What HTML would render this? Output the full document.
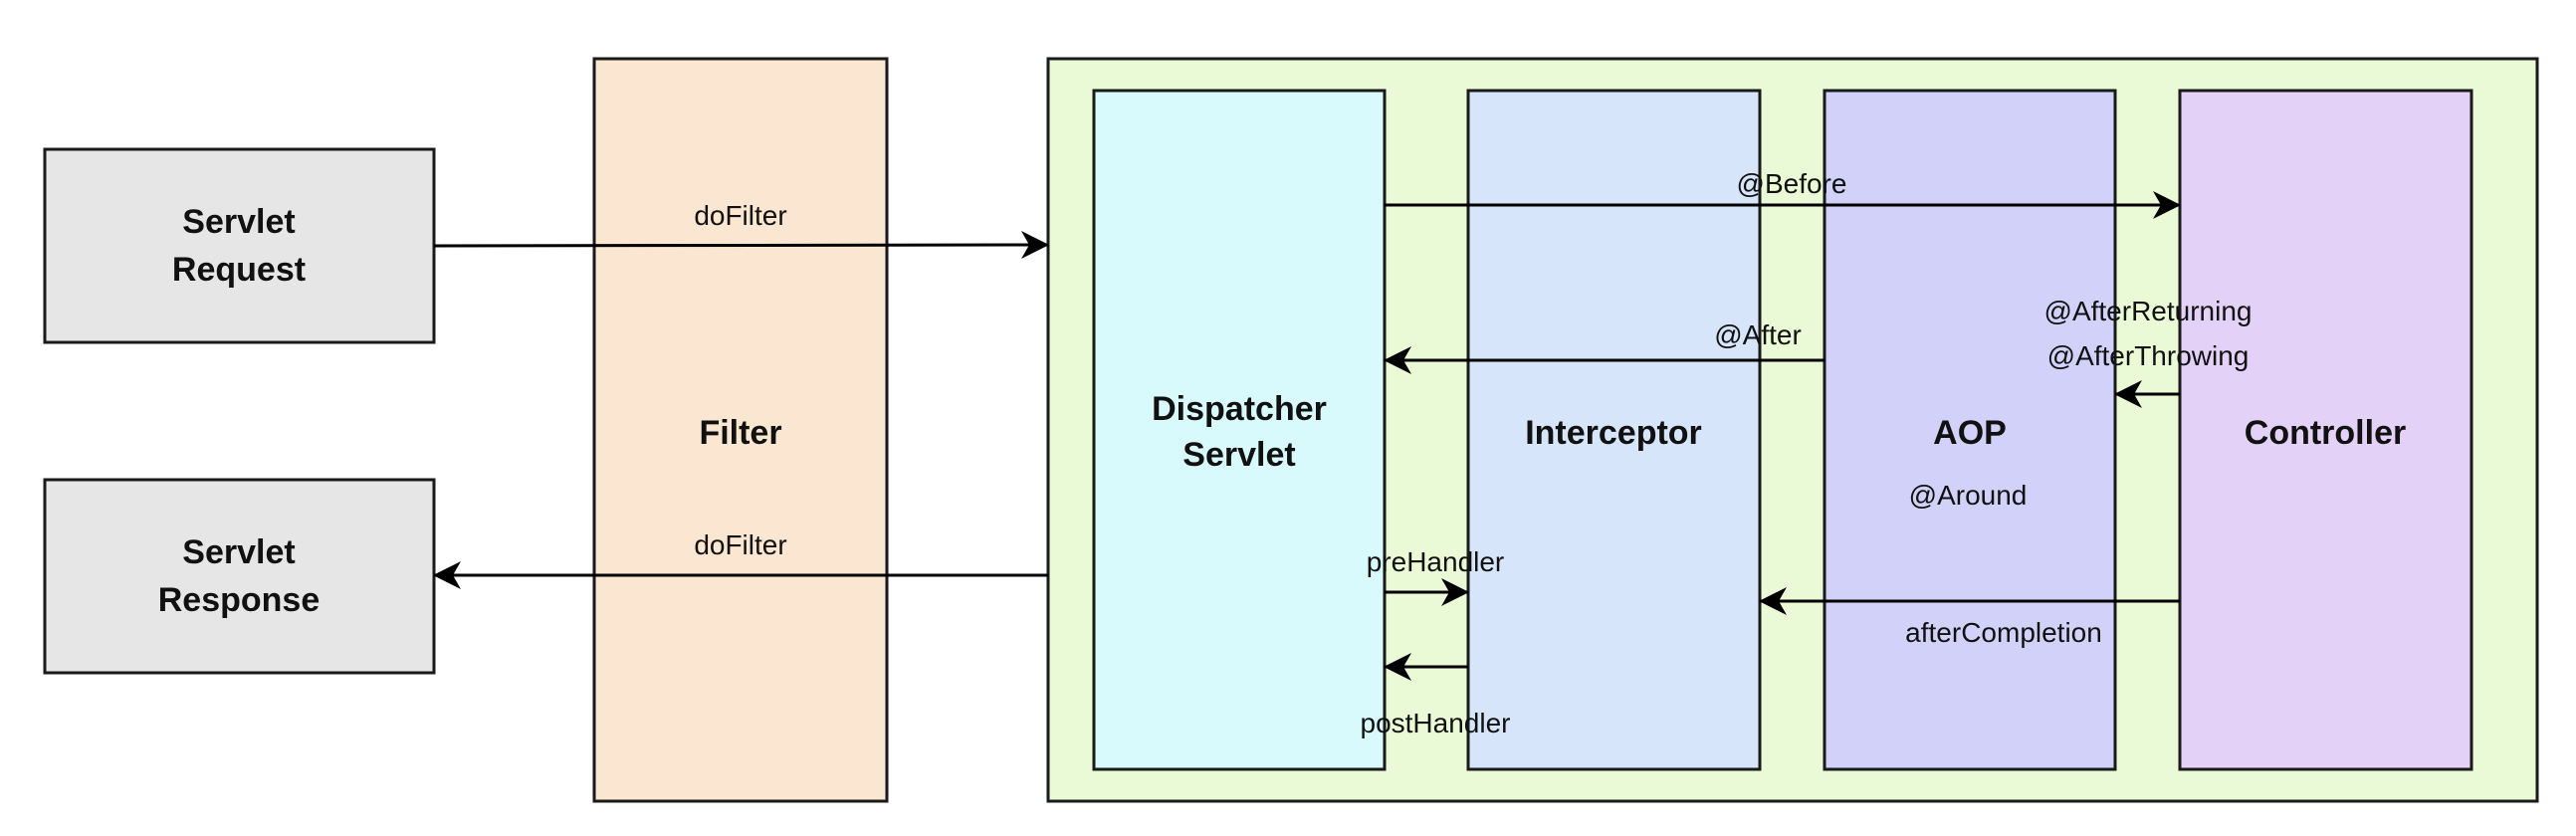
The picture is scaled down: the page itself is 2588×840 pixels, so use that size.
<!DOCTYPE html>
<html><head><meta charset="utf-8"><style>html,body{margin:0;padding:0;background:#fff}svg{display:block}</style></head>
<body>
<svg width="2588" height="840" viewBox="0 0 2588 840" xmlns="http://www.w3.org/2000/svg">
<defs>
<marker id="a" markerWidth="30" markerHeight="30" refX="27" refY="14" orient="auto" markerUnits="userSpaceOnUse">
<path d="M0,0 L28,14 L0,28 L8,14 Z" fill="#000"/>
</marker>
</defs>
<g stroke="#1a1a1a" stroke-width="3">
<rect x="45" y="150" width="391" height="194" fill="#e6e6e6"/>
<rect x="45" y="482" width="391" height="194" fill="#e6e6e6"/>
<rect x="597" y="59" width="294" height="746" fill="#fae6d1"/>
<rect x="1053" y="59" width="1496" height="746" fill="#ebfad6"/>
<rect x="1099" y="91" width="292" height="682" fill="#d8fafd"/>
<rect x="1475" y="91" width="293" height="682" fill="#d6e5fa"/>
<rect x="1833" y="91" width="292" height="682" fill="#d1d1fa"/>
<rect x="2190" y="91" width="293" height="682" fill="#e3d1f8"/>
</g>
<g stroke="#000" stroke-width="3" fill="none" marker-end="url(#a)">
<line x1="436" y1="247" x2="1053" y2="246"/>
<line x1="1053" y1="578" x2="436" y2="578"/>
<line x1="1391" y1="206" x2="2190" y2="206"/>
<line x1="1833" y1="362" x2="1391" y2="362"/>
<line x1="2190" y1="396" x2="2125" y2="396"/>
<line x1="2190" y1="604" x2="1768" y2="604"/>
<line x1="1391" y1="595" x2="1475" y2="595"/>
<line x1="1475" y1="670" x2="1391" y2="670"/>
</g>
<g font-family="Liberation Sans, sans-serif" font-weight="bold" font-size="34" text-anchor="middle" fill="#111">
<text x="240" y="234">Servlet</text>
<text x="240" y="282">Request</text>
<text x="240" y="566">Servlet</text>
<text x="240" y="614">Response</text>
<text x="744" y="446">Filter</text>
<text x="1245" y="422">Dispatcher</text>
<text x="1245" y="468">Servlet</text>
<text x="1621" y="446">Interceptor</text>
<text x="1979" y="446">AOP</text>
<text x="2336" y="446">Controller</text>
</g>
<g font-family="Liberation Sans, sans-serif" font-size="28" text-anchor="middle" fill="#111">
<text x="744" y="226">doFilter</text>
<text x="744" y="557">doFilter</text>
<text x="1800" y="194">@Before</text>
<text x="1766" y="346">@After</text>
<text x="2158" y="322">@AfterReturning</text>
<text x="2158" y="367">@AfterThrowing</text>
<text x="1977" y="507">@Around</text>
<text x="1442" y="574">preHandler</text>
<text x="1442" y="736">postHandler</text>
<text x="2013" y="645">afterCompletion</text>
</g>
</svg>
</body></html>
